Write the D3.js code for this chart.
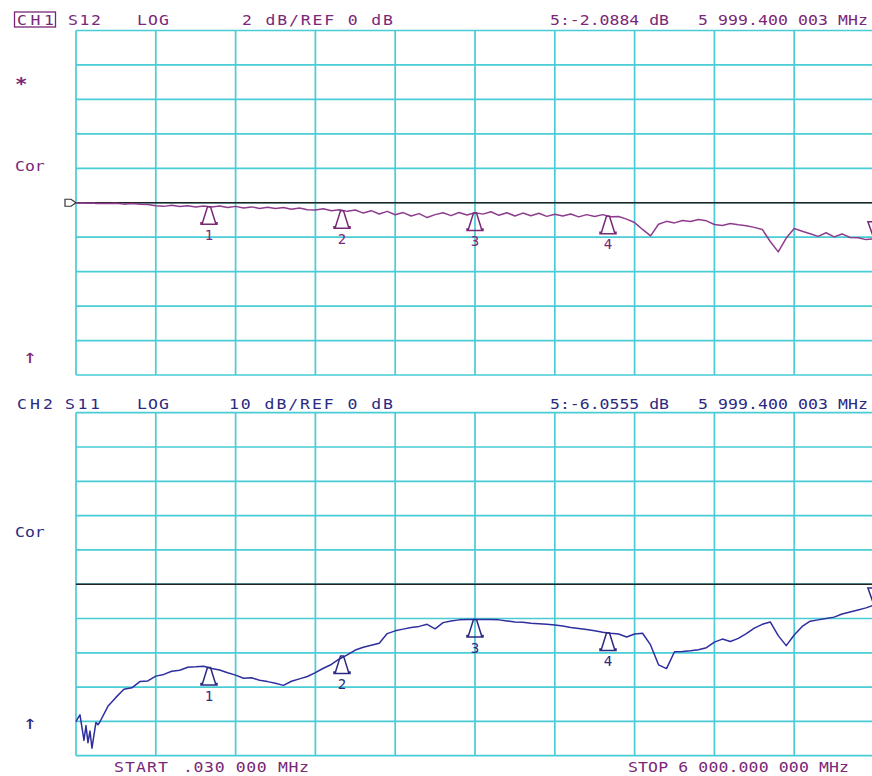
<!DOCTYPE html>
<html>
<head>
<meta charset="utf-8">
<script src="https://cdn.jsdelivr.net/npm/d3@7"></script>
<style>
    body { margin: 0; background: #fff; }
    svg { display: block; }
    text { font-family: "DejaVu Sans Mono", monospace; font-size: 13.5px; }
</style>
</head>
<body>
<div id="chart"></div>
<script>
// sweep points [MHz]
const freqMHz = [0.03, 15, 30, 45, 60, 75, 90, 105, 120, 135, 150, 165, 180,
    240, 300, 360, 420, 480, 540, 600, 660, 720, 780, 840, 900, 960,
    1020, 1080, 1140, 1200, 1260, 1320, 1380, 1440, 1500, 1560, 1620, 1680, 1740, 1800, 1860, 1920, 1980,
    2040, 2100, 2160, 2220, 2280, 2340, 2400, 2460, 2520, 2580, 2640, 2700, 2760, 2820, 2880, 2940, 3000,
    3060, 3120, 3180, 3240, 3300, 3360, 3420, 3480, 3540, 3600, 3660, 3720, 3780, 3840, 3900, 3960, 4020,
    4080, 4140, 4200, 4260, 4320, 4380, 4440, 4500, 4560, 4620, 4680, 4740, 4800, 4860, 4920, 4980, 5040,
    5100, 5160, 5220, 5280, 5340, 5400, 5460, 5520, 5580, 5640, 5700, 5760, 5820, 5880, 5940, 6000];

// CH1 S12 [dB]
const s12 = [0, -0.01, -0.01, -0.02, -0.01, -0.02, -0.03, -0.02, -0.03, -0.02, -0.04, -0.03, -0.04,
    -0.05, -0.03, -0.08, -0.04, -0.09, -0.10, -0.18, -0.21, -0.14, -0.22, -0.17, -0.24, -0.19,
    -0.25, -0.19, -0.28, -0.21, -0.30, -0.24, -0.33, -0.26, -0.34, -0.28, -0.38, -0.31, -0.40, -0.42, -0.35, -0.47, -0.41,
    -0.50, -0.42, -0.60, -0.46, -0.65, -0.50, -0.70, -0.57, -0.77, -0.63, -0.86, -0.69, -0.58, -0.75, -0.57, -0.71, -0.58,
    -0.66, -0.52, -0.73, -0.58, -0.77, -0.60, -0.75, -0.61, -0.79, -0.67, -0.77, -0.65, -0.82, -0.69, -0.80, -0.69, -0.81,
    -0.80, -0.95, -1.15, -1.55, -1.92, -1.25, -1.08, -1.17, -1.03, -1.09, -0.97, -1.05, -1.26, -1.32, -1.21, -1.28, -1.33,
    -1.43, -1.55, -2.25, -2.85, -2.05, -1.50, -1.65, -1.80, -1.95, -1.74, -1.98, -1.81, -2.02, -2.03, -2.14, -2.09];

// CH2 S11 [dB]
const s11 = [-40.1, -39.0, -38.1, -41.8, -45.5, -41.2, -46.2, -42.8, -47.8, -44.0, -40.3, -41.0, -40.1,
    -35.6, -33.0, -30.6, -30.2, -28.4, -28.2, -26.8, -26.3, -25.4, -25.1, -24.2, -24.1, -23.9,
    -24.6, -25.0, -25.8, -26.5, -27.4, -27.3, -28.0, -28.4, -28.9, -29.5, -28.3, -27.6, -26.9, -25.8, -24.5, -23.4, -21.8,
    -20.6, -19.2, -18.4, -17.8, -17.2, -14.4, -13.6, -13.1, -12.6, -12.3, -11.7, -13.0, -11.2, -10.7, -10.4, -10.3, -10.3,
    -10.3, -10.3, -10.4, -10.7, -11.0, -11.1, -11.4, -11.5, -11.7, -11.9, -12.2, -12.6, -12.9, -13.2, -13.6, -14.0, -14.3,
    -14.5, -15.4, -14.5, -14.3, -17.7, -23.5, -24.6, -19.7, -19.6, -19.4, -19.1, -18.5, -16.9, -16.0, -16.7, -15.8, -14.4,
    -12.8, -11.7, -11.0, -15.0, -17.9, -14.8, -12.3, -10.8, -10.4, -10.0, -9.6, -8.7, -8.1, -7.5, -6.9, -6.06];

// markers
const markerFreq = [1000, 2000, 3000, 4000, 5999.4];
const markerS12 = [-0.23, -0.47, -0.59, -0.78, -2.0884];
const markerS11 = [-24.3, -20.9, -10.3, -14.2, -6.0555];
const markerLabels = ['1', '2', '3', '4', ''];

// annotation texts
const ch1Header = ['CH1', 'S12', 'LOG', '2 dB/REF 0 dB', '5:-2.0884 dB', '5 999.400 003 MHz'];
const ch2Header = ['CH2', 'S11', 'LOG', '10 dB/REF 0 dB', '5:-6.0555 dB', '5 999.400 003 MHz'];
const startLabel = ['START', '.030 000 MHz'];
const stopLabel = 'STOP 6 000.000 000 MHz';
const ch1Side = ['*', 'Cor', '\u2191'];
const ch2Side = ['Cor', '\u2191'];

// the analyser font is wider than DejaVu Sans Mono, so text gets stretched
const STRETCH = 1.22;

function putText(parent, str, x, y, w, color) {
    let t = parent.append('text')
        .attr('transform', 'translate(' + x + ',' + y + ') scale(' + STRETCH + ',1)')
        .style('fill', color)
        .text(str);
    if (w) t.attr('textLength', w / STRETCH).attr('lengthAdjust', 'spacing');
    return t;
}


class TracePanel {
    constructor(parent, opt) {
        let obj = this;
        this.opt = opt;

        this.xScale = d3.scaleLinear().domain([0, 6000]).range([76, 874]);
        this.yScale = d3.scaleLinear()
            .domain([opt.ref - 5 * opt.perDiv, opt.ref + 5 * opt.perDiv])
            .range([opt.bottom, opt.top]);

        this.line = d3.line()
            .x(function(d) { return obj.xScale(d.f); })
            .y(function(d) { return obj.yScale(d.v); });

        this.g = parent.append('g').attr('class', 'panel');

        this.drawGrid();
        this.drawTrace();
        this.drawMarkers();
        this.drawTexts();
    }

    drawGrid() {
        let obj = this;
        let xs = d3.range(0, 6001, 600);
        let ys = d3.range(-5, 6).map(function(i) { return obj.opt.ref + i * obj.opt.perDiv; });

        this.g.selectAll('.vgrid').data(xs).enter().append('line')
            .attr('class', 'vgrid')
            .attr('x1', function(d) { return obj.xScale(d); })
            .attr('x2', function(d) { return obj.xScale(d); })
            .attr('y1', this.opt.top).attr('y2', this.opt.bottom)
            .style('stroke', '#48ccd5').style('stroke-width', 1.7);

        this.g.selectAll('.hgrid').data(ys).enter().append('line')
            .attr('class', 'hgrid')
            .attr('x1', this.xScale(0)).attr('x2', this.xScale(6000))
            .attr('y1', function(d) { return obj.yScale(d); })
            .attr('y2', function(d) { return obj.yScale(d); })
            .style('stroke', '#48ccd5').style('stroke-width', 1.7);

        // reference line
        this.g.append('line')
            .attr('x1', this.xScale(0)).attr('x2', this.xScale(6000))
            .attr('y1', this.yScale(this.opt.ref)).attr('y2', this.yScale(this.opt.ref))
            .style('stroke', '#222').style('stroke-width', 1.5);

        if (this.opt.refPointer) {
            let x = this.xScale(0), y = this.yScale(this.opt.ref);
            this.g.append('path')
                .attr('d', 'M' + (x - 11) + ',' + (y - 3.5) + 'L' + (x - 5) + ',' + (y - 3.5) + 'L' + x + ',' + y +
                    'L' + (x - 5) + ',' + (y + 3.5) + 'L' + (x - 11) + ',' + (y + 3.5) + 'Z')
                .style('fill', '#fff').style('stroke', '#333').style('stroke-width', 1.2);
        }
    }

    drawTrace() {
        let obj = this;
        let pts = freqMHz.map(function(f, i) { return {f: f, v: obj.opt.values[i]}; });
        this.g.append('path')
            .datum(pts)
            .attr('d', this.line)
            .style('fill', 'none')
            .style('stroke', this.opt.traceColor)
            .style('stroke-width', 1.5)
            .style('stroke-linejoin', 'round');
    }

    drawMarkers() {
        let obj = this;
        let data = markerFreq.map(function(f, i) {
            return {f: f, v: obj.opt.markers[i], label: markerLabels[i], active: i === markerFreq.length - 1};
        });

        let mk = this.g.selectAll('.marker').data(data).enter().append('g')
            .attr('class', 'marker')
            .attr('transform', function(d) { return 'translate(' + obj.xScale(d.f) + ',' + obj.yScale(d.v) + ')'; });

        mk.append('path')
            .attr('d', function(d) {
                return d.active ? 'M0,0L-6,-17L6,-17Z' : 'M-1.5,0L1.5,0L6.5,16L8,16L8,17.5L-8,17.5L-8,16L-6.5,16Z';
            })
            .style('fill', 'none')
            .style('stroke', this.opt.textColor)
            .style('stroke-width', 1.5);

        mk.append('text')
            .attr('y', 33)
            .style('text-anchor', 'middle')
            .style('font-size', '14px')
            .style('fill', this.opt.textColor)
            .text(function(d) { return d.label; });
    }

    drawTexts() {
        let obj = this;
        let hx = this.opt.headerX, hw = this.opt.headerW;

        this.opt.header.forEach(function(str, i) {
            putText(obj.g, str, hx[i], obj.opt.headerY, hw[i], obj.opt.textColor);
        });

        if (this.opt.boxed) {
            this.g.append('rect')
                .attr('x', 14.5).attr('y', this.opt.headerY - 12.5)
                .attr('width', 41).attr('height', 15)
                .style('fill', 'none').style('stroke', this.opt.textColor).style('stroke-width', 1.3);
        }

        this.opt.side.forEach(function(str, i) {
            let t = putText(obj.g, str, obj.opt.sideX[i], obj.opt.sideY[i], null, obj.opt.textColor);
            if (str === '*') t.style('font-size', '17px').style('font-weight', 'bold');
            if (str === '\u2191') t.style('font-size', '19px');
        });
    }
}


let svg = d3.select('#chart').append('svg')
    .attr('width', 872)
    .attr('height', 776)
    .style('background', '#fff');

let ch1 = new TracePanel(svg, {
    top: 30.5, bottom: 375, ref: 0, perDiv: 2,
    values: s12, markers: markerS12,
    traceColor: '#8e3c8e', textColor: '#7a2778',
    header: ch1Header, headerY: 24.5, boxed: true,
    headerX: [17, 68, 137, 242, 550, 698], headerW: [37, 33, 32, 151, 119, 170],
    side: ch1Side, sideX: [15, 15, 23], sideY: [90, 171, 363],
    refPointer: true
});

let ch2 = new TracePanel(svg, {
    top: 412.7, bottom: 755.7, ref: 0, perDiv: 10,
    values: s11, markers: markerS11,
    traceColor: '#2e2e9e', textColor: '#2a2a82',
    header: ch2Header, headerY: 409, boxed: false,
    headerX: [17, 65, 137, 229, 550, 698], headerW: [36, 35, 32, 164, 119, 170],
    side: ch2Side, sideX: [15, 23], sideY: [537, 729],
    refPointer: false
});

// sweep range
putText(svg, startLabel[0], 114, 772, 54, '#7a2778');
putText(svg, startLabel[1], 183, 772, 126, '#7a2778');
putText(svg, stopLabel, 628, 772, 221, '#7a2778');
</script>
</body>
</html>
